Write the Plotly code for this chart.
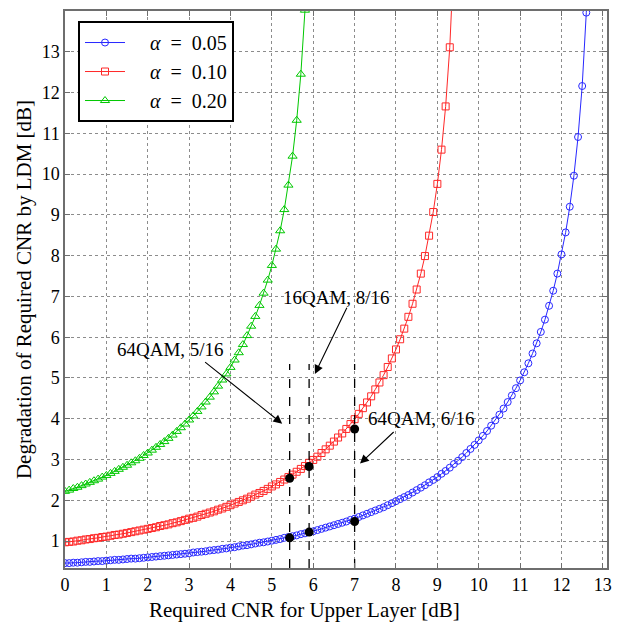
import plotly.graph_objects as go

# Required CNR for upper layer [dB] (grid of the computed curves)
cnr_db = [0.0, 0.1, 0.2, 0.3, 0.4, 0.5, 0.6, 0.7, 0.8, 0.9,
          1.0, 1.1, 1.2, 1.3, 1.4, 1.5, 1.6, 1.7, 1.8, 1.9,
          2.0, 2.1, 2.2, 2.3, 2.4, 2.5, 2.6, 2.7, 2.8, 2.9,
          3.0, 3.1, 3.2, 3.3, 3.4, 3.5, 3.6, 3.7, 3.8, 3.9,
          4.0, 4.1, 4.2, 4.3, 4.4, 4.5, 4.6, 4.7, 4.8, 4.9,
          5.0, 5.1, 5.2, 5.3, 5.4, 5.5, 5.6, 5.7, 5.8, 5.9,
          6.0, 6.1, 6.2, 6.3, 6.4, 6.5, 6.6, 6.7, 6.8, 6.9,
          7.0, 7.1, 7.2, 7.3, 7.4, 7.5, 7.6, 7.7, 7.8, 7.9,
          8.0, 8.1, 8.2, 8.3, 8.4, 8.5, 8.6, 8.7, 8.8, 8.9,
          9.0, 9.1, 9.2, 9.3, 9.4, 9.5, 9.6, 9.7, 9.8, 9.9,
          10.0, 10.1, 10.2, 10.3, 10.4, 10.5, 10.6, 10.7, 10.8, 10.9,
          11.0, 11.1, 11.2, 11.3, 11.4, 11.5, 11.6, 11.7, 11.8, 11.9,
          12.0, 12.1, 12.2, 12.3, 12.4, 12.5, 12.6, 12.7]

# Degradation [dB], alpha = 0.05
deg_a005 = [0.46, 0.46, 0.47, 0.47, 0.48, 0.49, 0.49, 0.50, 0.51, 0.51,
            0.52, 0.53, 0.54, 0.54, 0.55, 0.56, 0.57, 0.57, 0.58, 0.59,
            0.60, 0.61, 0.62, 0.63, 0.64, 0.65, 0.66, 0.67, 0.68, 0.69,
            0.70, 0.72, 0.73, 0.74, 0.75, 0.77, 0.78, 0.79, 0.81, 0.82,
            0.84, 0.85, 0.87, 0.89, 0.90, 0.92, 0.94, 0.96, 0.97, 0.99,
            1.01, 1.03, 1.05, 1.08, 1.10, 1.12, 1.14, 1.17, 1.19, 1.22,
            1.24, 1.27, 1.30, 1.33, 1.36, 1.39, 1.42, 1.45, 1.48, 1.52,
            1.55, 1.59, 1.63, 1.67, 1.71, 1.75, 1.79, 1.83, 1.88, 1.93,
            1.98, 2.03, 2.08, 2.13, 2.19, 2.25, 2.31, 2.37, 2.44, 2.50,
            2.57, 2.65, 2.72, 2.80, 2.89, 2.97, 3.06, 3.16, 3.26, 3.36,
            3.47, 3.58, 3.70, 3.83, 3.96, 4.10, 4.25, 4.41, 4.57, 4.75,
            4.94, 5.14, 5.36, 5.60, 5.85, 6.13, 6.43, 6.77, 7.14, 7.56,
            8.03, 8.57, 9.20, 9.96, 10.91, 12.16, 13.96, 17.22]

# Degradation [dB], alpha = 0.10
deg_a010 = [0.97, 0.98, 0.99, 1.01, 1.02, 1.04, 1.05, 1.07, 1.08, 1.10,
            1.11, 1.13, 1.15, 1.16, 1.18, 1.20, 1.22, 1.24, 1.26, 1.28,
            1.30, 1.32, 1.34, 1.37, 1.39, 1.41, 1.44, 1.46, 1.49, 1.52,
            1.55, 1.57, 1.60, 1.64, 1.67, 1.70, 1.73, 1.77, 1.80, 1.84,
            1.88, 1.92, 1.96, 2.00, 2.04, 2.09, 2.14, 2.18, 2.23, 2.28,
            2.34, 2.39, 2.45, 2.51, 2.57, 2.63, 2.70, 2.77, 2.84, 2.92,
            2.99, 3.07, 3.16, 3.25, 3.34, 3.44, 3.54, 3.64, 3.75, 3.87,
            3.99, 4.12, 4.26, 4.40, 4.55, 4.72, 4.89, 5.07, 5.27, 5.48,
            5.70, 5.95, 6.21, 6.50, 6.82, 7.17, 7.56, 7.99, 8.49, 9.07,
            9.76, 10.60, 11.66, 13.11, 15.37]

# Degradation [dB], alpha = 0.20
deg_a020 = [2.22, 2.25, 2.29, 2.32, 2.36, 2.40, 2.44, 2.48, 2.52, 2.57,
            2.61, 2.66, 2.71, 2.76, 2.81, 2.86, 2.92, 2.97, 3.03, 3.10,
            3.16, 3.23, 3.30, 3.37, 3.44, 3.52, 3.60, 3.69, 3.78, 3.87,
            3.97, 4.07, 4.18, 4.29, 4.41, 4.53, 4.66, 4.80, 4.95, 5.10,
            5.26, 5.44, 5.62, 5.82, 6.04, 6.27, 6.51, 6.78, 7.08, 7.40,
            7.76, 8.16, 8.61, 9.13, 9.73, 10.44, 11.32, 12.45, 14.02, 16.60]

series_names = ["\u2003<i>α</i>\u2002=\u20020.05", "\u2003<i>α</i>\u2002=\u20020.10", "\u2003<i>α</i>\u2002=\u20020.20"]

# Measured points (black dots) and marker lines
meas_x = [5.43, 5.9, 7.0]
meas_y_a005 = [1.08, 1.22, 1.48]
meas_y_a010 = [2.54, 2.83, 3.75]
vline_top = 5.34

# Annotations: label, label position, arrow start, arrow tip
ann_labels = ["64QAM, 5/16", "16QAM, 8/16", "64QAM, 6/16"]
ann_text_xy = [(2.54, 5.69), (6.56, 6.98), (8.62, 4.0)]
ann_arrow_from = [(3.35, 5.42), (6.83, 6.76), (7.98, 3.71)]
ann_arrow_to = [(5.25, 3.88), (6.04, 5.10), (7.13, 2.90)]

x_tick_vals = list(range(0, 14))
y_tick_vals = list(range(1, 14))
x_range = [0, 13.1]
y_range = [0.34, 14.0]

FONT = "Liberation Serif"

fig = go.Figure()

styles = [
    dict(color="rgb(40,40,255)", symbol="circle-open", size=7),
    dict(color="rgb(255,40,40)", symbol="square-open", size=7),
    dict(color="rgb(0,200,0)", symbol="triangle-up-open", size=8),
]
ys = [deg_a005, deg_a010, deg_a020]
for name, y, st in zip(series_names, ys, styles):
    fig.add_trace(go.Scatter(
        x=cnr_db[:len(y)], y=y, mode="lines+markers", name=name,
        line=dict(color=st["color"], width=1),
        marker=dict(symbol=st["symbol"], size=st["size"], color=st["color"],
                    line=dict(width=1, color=st["color"])),
    ))

# dashed vertical lines
for xv in meas_x:
    fig.add_trace(go.Scatter(
        x=[xv, xv], y=[y_range[0], vline_top], mode="lines",
        line=dict(color="black", width=1.3, dash="dash"),
        showlegend=False, hoverinfo="skip"))

fig.add_trace(go.Scatter(
    x=meas_x + meas_x, y=meas_y_a005 + meas_y_a010, mode="markers",
    marker=dict(color="black", size=9), showlegend=False))

annotations = []
for lab, (tx, ty), (fx, fy), (px, py) in zip(ann_labels, ann_text_xy, ann_arrow_from, ann_arrow_to):
    annotations.append(dict(x=tx, y=ty, xref="x", yref="y", text=lab, showarrow=False,
                            font=dict(family=FONT, size=19, color="black")))
    annotations.append(dict(x=px, y=py, ax=fx, ay=fy, xref="x", yref="y", axref="x", ayref="y",
                            text="", showarrow=True, arrowhead=2, arrowsize=1.6, arrowwidth=1.1,
                            arrowcolor="black", standoff=0, startstandoff=0))

# x-axis title (slightly left of centre, as in the reference)
annotations.append(dict(x=0.442, y=0, xref="paper", yref="paper", yshift=-28,
                        xanchor="center", yanchor="top", showarrow=False,
                        text="Required CNR for Upper Layer [dB]",
                        font=dict(family=FONT, size=21, color="black")))

axis_common = dict(
    showgrid=True, gridcolor="rgb(140,140,140)", gridwidth=1, griddash="dot",
    showline=True, linecolor="rgb(110,110,110)", linewidth=1.5, mirror="ticks",
    ticks="inside", ticklen=5, tickcolor="rgb(110,110,110)",
    tickfont=dict(family=FONT, size=18, color="black"), zeroline=False,
)

fig.update_layout(
    width=621, height=623,
    margin=dict(l=65, r=9, t=9, b=55),
    paper_bgcolor="white", plot_bgcolor="white",
    font=dict(family=FONT, color="black"),
    xaxis=dict(range=x_range, tickvals=x_tick_vals, **axis_common),
    yaxis=dict(range=y_range, tickvals=y_tick_vals,
               title=dict(text="Degradation of Required CNR by LDM [dB]", font=dict(family=FONT, size=21), standoff=4),
               **axis_common),
    legend=dict(x=0.024, y=0.982, xanchor="left", yanchor="top",
                bgcolor="white", bordercolor="black", borderwidth=2,
                font=dict(family=FONT, size=20), tracegroupgap=0, itemwidth=40),
    annotations=annotations,
    showlegend=True,
)

fig.write_html("out.html")
